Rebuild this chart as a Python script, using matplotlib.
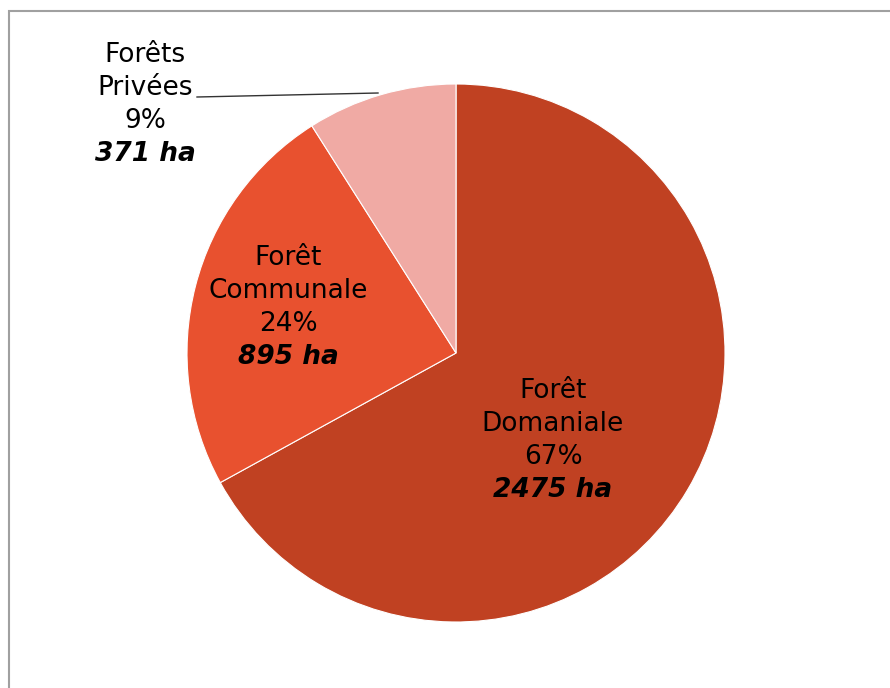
import matplotlib.pyplot as plt
import matplotlib.patches as mpatches

# Données
categories = ["Forêt\nDomaniale", "Forêt\nCommunale", "Forêts\nPrivées"]
percents = [67, 24, 9]
surfaces = ["2475 ha", "895 ha", "371 ha"]
colors = ["#C04122", "#E8512F", "#F0AAA4"]

W, H = 890, 688
fig = plt.figure(figsize=(W / 100, H / 100), dpi=100)
ax = fig.add_axes([0, 0, 1, 1])
ax.set_xlim(0, W)
ax.set_ylim(0, H)
ax.set_aspect('equal')
ax.axis('off')

# cadre gris (coupé à droite et en bas)
ax.add_patch(mpatches.Rectangle((8.5, -20), W + 40, H - 11 + 20, fill=False,
                                edgecolor='#A0A0A0', linewidth=1.5))

cx, cy, r = 456, H - 353, 269
ax.pie(percents, colors=colors, startangle=90, counterclock=False,
       center=(cx, cy), radius=r, frame=True,
       wedgeprops=dict(edgecolor='white', linewidth=0.8))
ax.set_xlim(0, W)
ax.set_ylim(0, H)
ax.axis('off')

# positions des étiquettes (centre x, y de la première ligne, en pixels)
label_pos = [(553, 391), (288, 258), (145, 55)]
line_h = 33
for cat, pct, surf, (lx, ly) in zip(categories, percents, surfaces, label_pos):
    lines = cat.split("\n") + [f"{pct}%"]
    for i, t in enumerate(lines):
        ax.text(lx, H - (ly + i * line_h), t, ha='center', va='center',
                fontsize=19, color='black')
    ax.text(lx, H - (ly + len(lines) * line_h), surf, ha='center', va='center',
            fontsize=19, fontweight='bold', fontstyle='italic', color='black')

# ligne de rappel pour Forêts Privées
ax.plot([197, 378], [H - 97, H - 93], color='#333333', linewidth=1.0)

fig.savefig("out.png", dpi=100)
